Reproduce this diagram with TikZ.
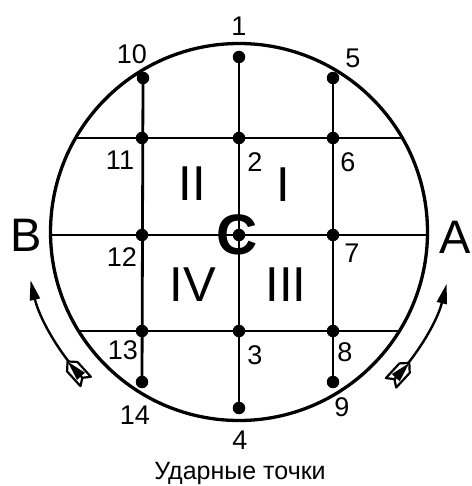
\documentclass[tikz,border=0pt]{standalone}
\usepackage{fontspec}
\setmainfont{Liberation Sans}
\usetikzlibrary{arrows.meta,decorations.markings}
\begin{document}
\begin{tikzpicture}[x=1pt,y=-1pt,
  dot/.style={circle,fill=black,inner sep=0pt,minimum size=12.5pt},
  num/.style={inner sep=0pt,font=\fontsize{27}{27}\selectfont},
  big/.style={inner sep=0pt,font=\fontsize{49}{49}\selectfont},
  side/.style={inner sep=0pt,font=\fontsize{47}{47}\selectfont},
  grid/.style={line width=2.8pt},
  rim/.style={line width=3.3pt},
  fletched/.style={line width=2.4pt,-{Triangle[length=20pt,width=10pt]},
    postaction={decorate,decoration={markings,
      mark=at position 1pt with {\draw[line width=2.2pt,fill=white,line join=round]
        (-3,0) -- (-8,7) -- (12,7) -- (19,0) -- (12,-7) -- (-8,-7) -- cycle;
        \draw[line width=2.2pt] (-3,0) -- (19,0);}}}}
  ]
\useasboundingbox (0,0) rectangle (471,486);
\coordinate (c) at (239,232);
\draw[rim] (c) circle[radius=188.5];
% horizontal line ends on the circle
\coordinate (t1) at (75.6,138); \coordinate (t2) at (402.4,138);
\coordinate (m1) at (50.5,235); \coordinate (m2) at (427.5,235);
\coordinate (b1) at (78.6,331); \coordinate (b2) at (399.4,331);
% dots
\node[dot] (d1) at (239,57) {};
\node[dot] (d10) at (143,78) {};
\node[dot] (d5) at (333,78) {};
\node[dot] (d11) at (142,138) {};
\node[dot] (d2) at (239,138) {};
\node[dot] (d6) at (333,138) {};
\node[dot] (d12) at (142,235) {};
\node[dot] (dc) at (239,235) {};
\node[dot] (d7) at (333,235) {};
\node[dot] (d13) at (142,331) {};
\node[dot] (d3) at (239,331) {};
\node[dot] (d8) at (333,331) {};
\node[dot] (d14) at (142,382) {};
\node[dot] (d4) at (239,408) {};
\node[dot] (d9) at (333,382) {};
% grid lines
\draw[grid] (d10.center) -- (d14.center);
\draw[grid] (d1.center) -- (d4.center);
\draw[grid] (d5.center) -- (d9.center);
\draw[grid] (t1) -- (t2);
\draw[grid] (m1) -- (m2);
\draw[line width=2.3pt] (b1) -- (b2);
% centre mark
\node[inner sep=0pt,font=\bfseries\fontsize{57}{57}\selectfont] (cc) at (237.5,235) {C};
% labels
\node[num] (l1) at (239,26) {1};
\node[num] (l10) at (132,54) {10};
\node[num] (l5) at (353,58) {5};
\node[num] (l11) at (120,160) {11};
\node[num] (l2) at (255,162) {2};
\node[num] (l6) at (348,162) {6};
\node[num] (l12) at (122,257) {12};
\node[num] (l7) at (352,253) {7};
\node[num] (l13) at (123,350) {13};
\node[num] (l3) at (255,355) {3};
\node[num] (l8) at (345,352) {8};
\node[num] (l14) at (135,415) {14};
\node[num] (l9) at (342,407) {9};
\node[num] (l4) at (240,440) {4};
\node[big] (q2) at (192,184) {II};
\node[big] (q1) at (283,185) {I};
\node[big] (q4) at (193,285) {IV};
\node[big] (q3) at (286,285) {III};
\node[side] (B) at (26,235) {B};
\node[side] (A) at (455,237) {A};
\node[inner sep=0pt,font=\fontsize{25}{25}\selectfont] (cap) at (240,473) {Ударные точки};
% rotation arrows
\draw[fletched] (c) ++(137.6:214) arc[start angle=137.6,end angle=167,radius=214];
\draw[fletched] (c) ++(42.9:214) arc[start angle=42.9,end angle=14,radius=214];
\end{tikzpicture}
\end{document}
